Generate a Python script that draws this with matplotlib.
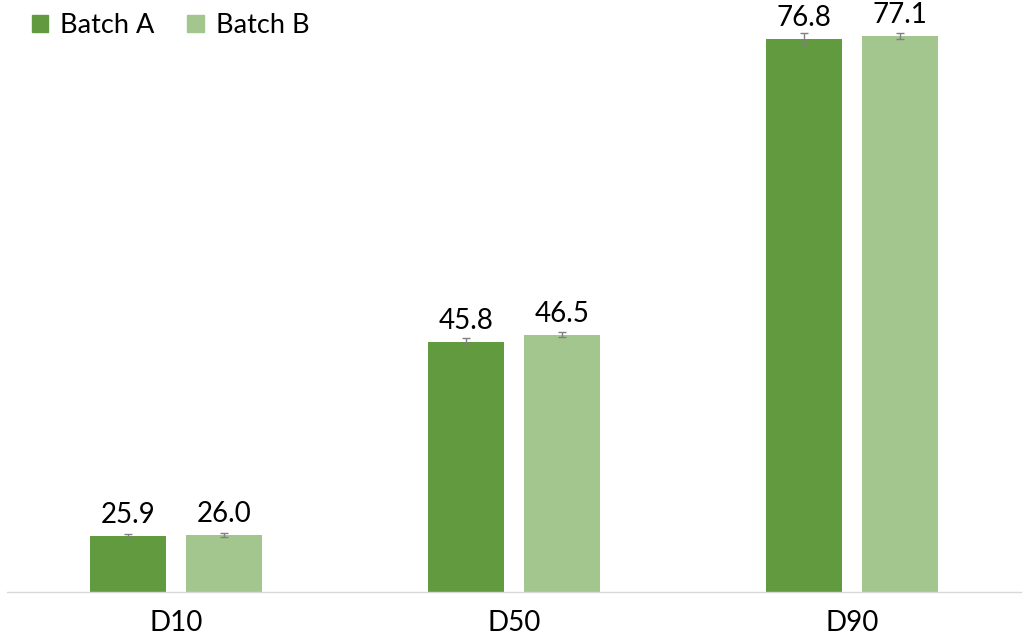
import matplotlib
matplotlib.use("Agg")
import matplotlib.pyplot as plt
import numpy as np
from matplotlib.patches import Patch

categories = ["D10", "D50", "D90"]
series_names = ["Batch A", "Batch B"]
batch_a = [25.9, 45.8, 76.8]
batch_b = [26.0, 46.5, 77.1]
err_a = [0.15, 0.4, 0.6]
err_b = [0.2, 0.25, 0.3]

col_a = "#629A3F"
col_b = "#A3C58E"

plt.rcParams['font.family'] = ['Lato', 'DejaVu Sans']

fig = plt.figure(figsize=(10.24, 6.44), dpi=100)
ax = fig.add_axes([7/1024, 1-592/644, 1014/1024, 585/644])

x = np.arange(len(categories))
w = 0.222
off = 0.142
for vals, errs, c, dx in [(batch_a, err_a, col_a, -off), (batch_b, err_b, col_b, off)]:
    ax.bar(x + dx, vals, width=w, color=c, bottom=0, zorder=2)
    ax.errorbar(x + dx, vals, yerr=errs, fmt="none", ecolor="#808080",
                elinewidth=1, capsize=3, capthick=1, zorder=3)
    for xi, v in zip(x + dx, vals):
        ax.text(xi, v + 0.8, f"{v:.1f}", ha="center", va="bottom", fontsize=20, color="black")

ax.set_ylim(20.15, 80.07)
ax.set_xlim(-0.5, 2.5)
ax.set_yticks([])
ax.set_xticks(x)
ax.set_xticklabels(categories, fontsize=20)
ax.tick_params(axis="x", length=0, pad=13)
for s in ["top", "right", "left"]:
    ax.spines[s].set_visible(False)
ax.spines["bottom"].set_color("#D9D9D9")
ax.spines["bottom"].set_linewidth(1)

handles = [Patch(color=col_a), Patch(color=col_b)]
fig.legend(handles, series_names, loc="upper left", bbox_to_anchor=(32/1024, 1 - 13/644),
           ncol=2, frameon=False, fontsize=19.5, handlelength=0.6, handleheight=0.6,
           handletextpad=0.45, columnspacing=1.2, borderaxespad=0, borderpad=0)

fig.savefig("out.png", dpi=100)
